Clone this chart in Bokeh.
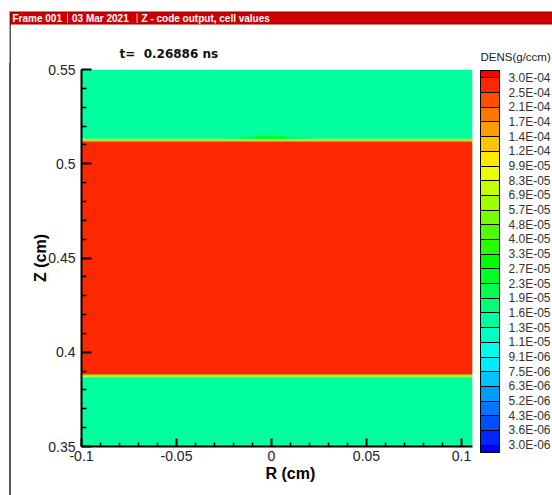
import colorsys

from bokeh.plotting import figure
from bokeh.layouts import column, row
from bokeh.models import (ColumnDataSource, LogColorMapper, ColorBar, FixedTicker,
                          AllLabels, Range1d, Div)
from bokeh.core.properties import value
from bokeh.embed import file_html
from bokeh.resources import INLINE

FONT = "Liberation Sans"
W, H = 552, 495
TOP_H = 63         # strip above the plot: frame header, time stamp, legend heading
EDGE_W = 11        # strip holding the frame's left edge line

# Contour levels of the density legend (g/ccm), from top to bottom, as printed
level_labels = ["3.0E-04", "2.5E-04", "2.1E-04", "1.7E-04", "1.4E-04", "1.2E-04",
                "9.9E-05", "8.3E-05", "6.9E-05", "5.7E-05", "4.8E-05", "4.0E-05",
                "3.3E-05", "2.7E-05", "2.3E-05", "1.9E-05", "1.6E-05", "1.3E-05",
                "1.1E-05", "9.1E-06", "7.5E-06", "6.3E-06", "5.2E-06", "4.3E-06",
                "3.6E-06", "3.0E-06"]
level_top, level_bottom = 3.0e-4, 3.0e-6

# Axis ticks
r_ticks = [-0.1, -0.05, 0.0, 0.05, 0.1]
r_tick_labels = ["-0.1", "-0.05", "0", "0.05", "0.1"]
z_ticks = [0.35, 0.4, 0.45, 0.5, 0.55]
z_tick_labels = ["0.35", "0.4", "0.45", "0.5", "0.55"]
r_minor = [-0.09, -0.08, -0.07, -0.06, -0.04, -0.03, -0.02, -0.01,
           0.01, 0.02, 0.03, 0.04, 0.06, 0.07, 0.08, 0.09]
z_minor = [0.36, 0.37, 0.38, 0.39, 0.41, 0.42, 0.43, 0.44,
           0.46, 0.47, 0.48, 0.49, 0.51, 0.52, 0.53, 0.54]

r_min, r_max = -0.1, 0.1058
z_min, z_max = 0.35, 0.55

# Horizontal cell layers spanning the whole r domain: z extent (cm), density (g/ccm)
# background gas, dense slab, then the thin transition cells at both slab faces
layer_z0 = [0.35, 0.3882, 0.3877, 0.3872, 0.3867, 0.5118, 0.5123, 0.5128]
layer_z1 = [0.55, 0.5118, 0.3882, 0.3877, 0.3872, 0.5123, 0.5128, 0.5133]
layer_dens = [1.45e-5, 2.7e-4, 1.6e-4, 1.1e-4, 9.0e-5, 1.6e-4, 1.1e-4, 9.0e-5]

# Small density bump just above the upper face, around the axis
bump_r0 = [-0.024, -0.017, -0.009]
bump_r1 = [0.021, 0.015, 0.007]
bump_z0 = [0.5133, 0.5133, 0.5133]
bump_z1 = [0.5138, 0.5143, 0.5147]
bump_dens = [1.75e-5, 2.0e-5, 2.4e-5]

# Header texts of the frame, time stamp and legend heading
header_texts = ["Frame 001", "03 Mar 2021", "Z - code output, cell values"]
time_text = "t=\u00a0 0.26886 ns"
legend_title = "DENS(g/ccm)"

# Contour levels are evenly spaced in log between the end levels
n_levels = len(level_labels)
step = (level_top / level_bottom) ** (1.0 / (n_levels - 1))
levels = [level_top / step ** i for i in range(n_levels)]

# Rainbow colour bands: red above the top level ... blue below the bottom level
n_bands = n_levels + 1
band_colors = []
for k in range(n_bands):
    rr, gg, bb = colorsys.hsv_to_rgb(240.0 * k / (n_bands - 1) / 360.0, 1.0, 1.0)
    band_colors.append("#%02x%02x%02x" % (round(rr * 255), round(gg * 255), round(bb * 255)))

# Each band between two levels takes two half-steps, the end bands one half-step
palette = ([band_colors[-1]]
           + [c for c in reversed(band_colors[1:-1]) for _ in range(2)]
           + [band_colors[0]])
mapper = LogColorMapper(palette=palette, low=level_bottom / step ** 0.5,
                        high=level_top * step ** 0.5)


# ---- strip above the plot (pixel coordinates, y downwards) ----
top = figure(width=W, height=TOP_H, x_range=Range1d(0, W), y_range=Range1d(TOP_H, 0),
             output_backend="svg", toolbar_location=None,
             x_axis_location=None, y_axis_location=None, min_border=0)
top.xgrid.visible = False
top.ygrid.visible = False
top.outline_line_color = None
top.border_fill_color = "white"
top.background_fill_color = "white"

top.quad(left=[9], right=[10.5], top=[11], bottom=[TOP_H],
         fill_color="#555555", line_color=None)
top.quad(left=[10], right=[W + 2], top=[11.5], bottom=[23.5],
         fill_color="#cc0000", line_color="#990000", line_width=1)
top.quad(left=[66.5, 136], right=[67.5, 137], top=[13, 13], bottom=[22.5, 22.5],
         fill_color="#f0c0c0", line_color=None)
top.text(x=[12, 71.5, 141], y=[17.8, 17.8, 17.8], text=header_texts,
         text_color="white", text_font=value(FONT), text_font_size="10px",
         text_font_style="bold", text_baseline="middle", text_align="left")
top.text(x=[119], y=[53.5], text=[time_text], text_color="#111111",
         text_font=value("DejaVu Sans"), text_font_size="12px",
         text_font_style="bold", text_baseline="middle", text_align="left")
top.text(x=[480], y=[56.5], text=[legend_title], text_color="#222222",
         text_font=value(FONT), text_font_size="11.5px",
         text_baseline="middle", text_align="left")

# ---- left edge of the frame ----
edge = Div(width=EDGE_W, height=H - TOP_H, margin=0,
           text='<div style="margin-left:9px;width:1.5px;height:%dpx;'
                'background:#555555"></div>' % (H - TOP_H))

# ---- main plot ----
p = figure(width=W - EDGE_W, height=H - TOP_H, x_range=(r_min, r_max),
           y_range=(z_min, z_max), output_backend="svg", toolbar_location=None,
           min_border_left=70, min_border_right=80, min_border_top=6,
           min_border_bottom=49)
p.xgrid.visible = False
p.ygrid.visible = False
p.outline_line_color = None
p.background_fill_color = "white"
p.border_fill_color = "white"

layers = ColumnDataSource(dict(left=[r_min] * len(layer_dens),
                               right=[r_max] * len(layer_dens),
                               bottom=layer_z0, top=layer_z1, dens=layer_dens))
p.quad(left="left", right="right", bottom="bottom", top="top", source=layers,
       fill_color={"field": "dens", "transform": mapper}, line_color=None)

bump = ColumnDataSource(dict(left=bump_r0, right=bump_r1, bottom=bump_z0,
                             top=bump_z1, dens=bump_dens))
p.quad(left="left", right="right", bottom="bottom", top="top", source=bump,
       fill_color={"field": "dens", "transform": mapper}, line_color=None)

# Axes
for ax, ticks, labels, minor in ((p.xaxis, r_ticks, r_tick_labels, r_minor),
                                 (p.yaxis, z_ticks, z_tick_labels, z_minor)):
    ax.ticker = FixedTicker(ticks=ticks, minor_ticks=minor)
    ax.major_label_overrides = dict(zip(ticks, labels))
    ax.axis_line_width = 2
    ax.axis_line_color = "black"
    ax.major_tick_out = 0
    ax.minor_tick_out = 0
    ax.major_tick_line_width = 2
    ax.minor_tick_line_width = 1.5
    ax.major_tick_line_color = "black"
    ax.minor_tick_line_color = "black"
    ax.major_label_text_font = FONT
    ax.major_label_text_font_size = "14px"
    ax.major_label_text_color = "#222222"
    ax.axis_label_text_font = FONT
    ax.axis_label_text_font_style = "bold"
    ax.axis_label_text_font_size = "16px"
    ax.axis_label_text_color = "black"

p.xaxis.major_tick_in = 8
p.xaxis.minor_tick_in = 4
p.yaxis.major_tick_in = 10
p.yaxis.minor_tick_in = 5
# leading no-break spaces move the R label toward the r = 0 tick
p.xaxis.axis_label = "\u00a0" * 6 + "R (cm)"
p.yaxis.axis_label = "Z (cm)"
p.xaxis.major_label_standoff = 4
p.yaxis.major_label_standoff = 6
p.xaxis.axis_label_standoff = 1
p.yaxis.axis_label_standoff = -4

# Density legend, just right of the plot frame
cb = ColorBar(color_mapper=mapper,
              ticker=FixedTicker(ticks=levels),
              major_label_overrides=dict(zip(levels, level_labels)),
              major_label_policy=AllLabels(),
              orientation="vertical",
              width=19, height=382, padding=0, margin=0, location=(399, -6),
              major_label_text_font=FONT, major_label_text_font_size="12px",
              major_label_text_color="#333333", label_standoff=9,
              major_tick_in=19, major_tick_out=0, major_tick_line_color="black",
              minor_tick_line_color=None, bar_line_color="black",
              background_fill_color=None, border_line_color=None)
p.add_layout(cb)

layout = column(top, row(edge, p, spacing=0), spacing=0)
open("out.html", "w").write(file_html(layout, INLINE))
